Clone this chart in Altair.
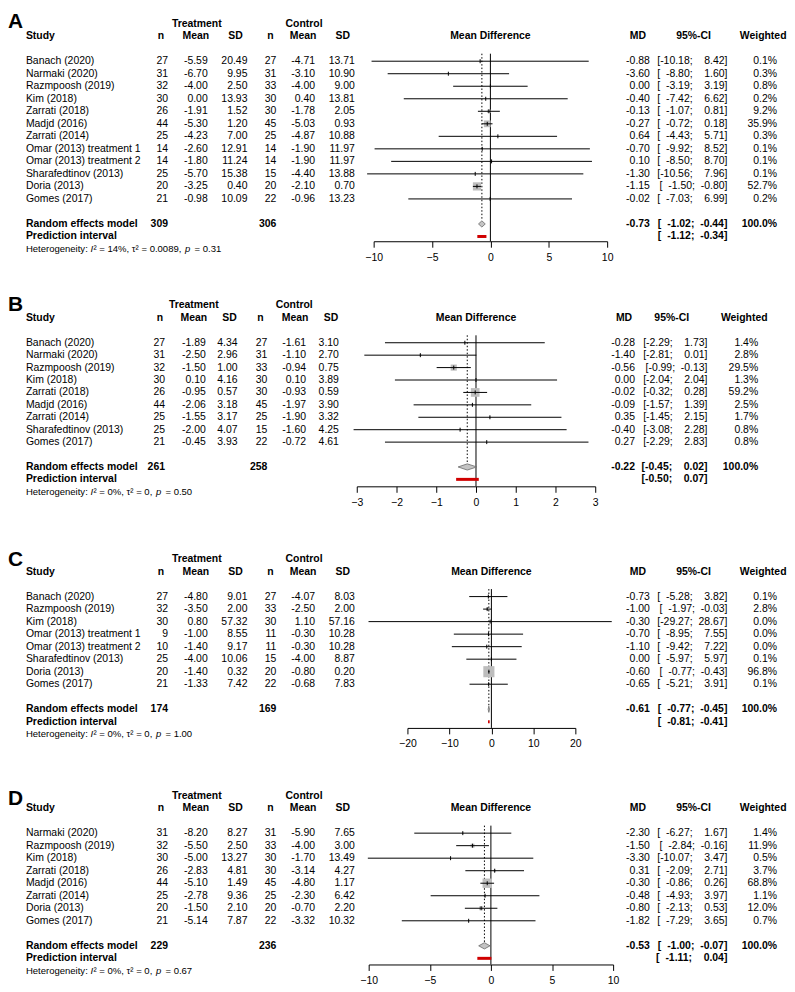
import altair as alt
import pandas as pd

FONT = "Liberation Sans"
FS = 10.5
HFS = 9.6

# ---------------- Panel A ----------------
A_study = ["Banach (2020)", "Narmaki (2020)", "Razmpoosh (2019)", "Kim (2018)", "Zarrati (2018)",
           "Madjd (2016)", "Zarrati (2014)", "Omar (2013) treatment 1", "Omar (2013) treatment 2",
           "Sharafedtinov (2013)", "Doria (2013)", "Gomes (2017)"]
A_tn = [27, 31, 32, 30, 26, 44, 25, 14, 14, 25, 20, 21]
A_tmean = [-5.59, -6.70, -4.00, 0.00, -1.91, -5.30, -4.23, -2.60, -1.80, -5.70, -3.25, -0.98]
A_tsd = [20.49, 9.95, 2.50, 13.93, 1.52, 1.20, 7.00, 12.91, 11.24, 15.38, 0.40, 10.09]
A_cn = [27, 31, 33, 30, 30, 45, 25, 14, 14, 15, 20, 22]
A_cmean = [-4.71, -3.10, -4.00, 0.40, -1.78, -5.03, -4.87, -1.90, -1.90, -4.40, -2.10, -0.96]
A_csd = [13.71, 10.90, 9.00, 13.81, 2.05, 0.93, 10.88, 11.97, 11.97, 13.88, 0.70, 13.23]
A_md = [-0.88, -3.60, 0.00, -0.40, -0.13, -0.27, 0.64, -0.70, 0.10, -1.30, -1.15, -0.02]
A_lo = [-10.18, -8.80, -3.19, -7.42, -1.07, -0.72, -4.43, -9.92, -8.50, -10.56, -1.50, -7.03]
A_hi = [8.42, 1.60, 3.19, 6.62, 0.81, 0.18, 5.71, 8.52, 8.70, 7.96, -0.80, 6.99]
A_w = [0.1, 0.3, 0.8, 0.2, 9.2, 35.9, 0.3, 0.1, 0.1, 0.1, 52.7, 0.2]
A_tot = [309, 306]
A_re = [-0.73, -1.02, -0.44]
A_pi = [-1.12, -0.34]
A_het = ["14%", "0.0089", "0.31"]
A_ticks = [-10, -5, 0, 5, 10]

# ---------------- Panel B ----------------
B_study = ["Banach (2020)", "Narmaki (2020)", "Razmpoosh (2019)", "Kim (2018)", "Zarrati (2018)",
           "Madjd (2016)", "Zarrati (2014)", "Sharafedtinov (2013)", "Gomes (2017)"]
B_tn = [27, 31, 32, 30, 26, 44, 25, 25, 21]
B_tmean = [-1.89, -2.50, -1.50, 0.10, -0.95, -2.06, -1.55, -2.00, -0.45]
B_tsd = [4.34, 2.96, 1.00, 4.16, 0.57, 3.18, 3.17, 4.07, 3.93]
B_cn = [27, 31, 33, 30, 30, 45, 25, 15, 22]
B_cmean = [-1.61, -1.10, -0.94, 0.10, -0.93, -1.97, -1.90, -1.60, -0.72]
B_csd = [3.10, 2.70, 0.75, 3.89, 0.59, 3.90, 3.32, 4.25, 4.61]
B_md = [-0.28, -1.40, -0.56, 0.00, -0.02, -0.09, 0.35, -0.40, 0.27]
B_lo = [-2.29, -2.81, -0.99, -2.04, -0.32, -1.57, -1.45, -3.08, -2.29]
B_hi = [1.73, 0.01, -0.13, 2.04, 0.28, 1.39, 2.15, 2.28, 2.83]
B_w = [1.4, 2.8, 29.5, 1.3, 59.2, 2.5, 1.7, 0.8, 0.8]
B_tot = [261, 258]
B_re = [-0.22, -0.45, 0.02]
B_pi = [-0.50, 0.07]
B_het = ["0%", "0", "0.50"]
B_ticks = [-3, -2, -1, 0, 1, 2, 3]

# ---------------- Panel C ----------------
C_study = ["Banach (2020)", "Razmpoosh (2019)", "Kim (2018)", "Omar (2013) treatment 1",
           "Omar (2013) treatment 2", "Sharafedtinov (2013)", "Doria (2013)", "Gomes (2017)"]
C_tn = [27, 32, 30, 9, 10, 25, 20, 21]
C_tmean = [-4.80, -3.50, 0.80, -1.00, -1.40, -4.00, -1.40, -1.33]
C_tsd = [9.01, 2.00, 57.32, 8.55, 9.17, 10.06, 0.32, 7.42]
C_cn = [27, 33, 30, 11, 11, 15, 20, 22]
C_cmean = [-4.07, -2.50, 1.10, -0.30, -0.30, -4.00, -0.80, -0.68]
C_csd = [8.03, 2.00, 57.16, 10.28, 10.28, 8.87, 0.20, 7.83]
C_md = [-0.73, -1.00, -0.30, -0.70, -1.10, 0.00, -0.60, -0.65]
C_lo = [-5.28, -1.97, -29.27, -8.95, -9.42, -5.97, -0.77, -5.21]
C_hi = [3.82, -0.03, 28.67, 7.55, 7.22, 5.97, -0.43, 3.91]
C_w = [0.1, 2.8, 0.0, 0.0, 0.0, 0.1, 96.8, 0.1]
C_tot = [174, 169]
C_re = [-0.61, -0.77, -0.45]
C_pi = [-0.81, -0.41]
C_het = ["0%", "0", "1.00"]
C_ticks = [-20, -10, 0, 10, 20]

# ---------------- Panel D ----------------
D_study = ["Narmaki (2020)", "Razmpoosh (2019)", "Kim (2018)", "Zarrati (2018)", "Madjd (2016)",
           "Zarrati (2014)", "Doria (2013)", "Gomes (2017)"]
D_tn = [31, 32, 30, 26, 44, 25, 20, 21]
D_tmean = [-8.20, -5.50, -5.00, -2.83, -5.10, -2.78, -1.50, -5.14]
D_tsd = [8.27, 2.50, 13.27, 4.81, 1.49, 9.36, 2.10, 7.87]
D_cn = [31, 33, 30, 30, 45, 25, 20, 22]
D_cmean = [-5.90, -4.00, -1.70, -3.14, -4.80, -2.30, -0.70, -3.32]
D_csd = [7.65, 3.00, 13.49, 4.27, 1.17, 6.42, 2.20, 10.32]
D_md = [-2.30, -1.50, -3.30, 0.31, -0.30, -0.48, -0.80, -1.82]
D_lo = [-6.27, -2.84, -10.07, -2.09, -0.86, -4.93, -2.13, -7.29]
D_hi = [1.67, -0.16, 3.47, 2.71, 0.26, 3.97, 0.53, 3.65]
D_w = [1.4, 11.9, 0.5, 3.7, 68.8, 1.1, 12.0, 0.7]
D_tot = [229, 236]
D_re = [-0.53, -1.00, -0.07]
D_pi = [-1.11, 0.04]
D_het = ["0%", "0", "0.67"]
D_ticks = [-10, -5, 0, 5, 10]

# ---------------- layout (pixel positions of table columns, not data) ----------------
LAY_STD = dict(study=18, tn=161, tmean=201, tsd=241, cn=270, cmean=309, csd=349,
               h_tn=154, h_tmean=189, h_tsd=229, h_cn=264, h_cmean=297, h_csd=337,
               h_treat=190, h_ctrl=298, md=646, h_md=634, ci=724, h_ci=690, w=774, h_w=760)
LAY_B = dict(study=18, tn=158, tmean=199, tsd=231, cn=261, cmean=300, csd=333,
             h_tn=153, h_tmean=187, h_tsd=223, h_cn=254, h_cmean=289, h_csd=325,
             h_treat=187, h_ctrl=288, md=631, h_md=620, ci=704, h_ci=668, w=755, h_w=741)

PANELS = [
    dict(letter="A", study=A_study, tn=A_tn, tmean=A_tmean, tsd=A_tsd, cn=A_cn, cmean=A_cmean,
         csd=A_csd, md=A_md, lo=A_lo, hi=A_hi, w=A_w, tot=A_tot, re=A_re, pi=A_pi, het=A_het,
         ticks=A_ticks, lay=LAY_STD, xrange=[368, 603], step=12.6, ytop=-1.0, ybot=17.38,
         lline=-0.98),
    dict(letter="B", study=B_study, tn=B_tn, tmean=B_tmean, tsd=B_tsd, cn=B_cn, cmean=B_cmean,
         csd=B_csd, md=B_md, lo=B_lo, hi=B_hi, w=B_w, tot=B_tot, re=B_re, pi=B_pi, het=B_het,
         ticks=B_ticks, lay=LAY_B, xrange=[351, 591], step=12.5, ytop=-3.38, ybot=14.56,
         lline=-0.92),
    dict(letter="C", study=C_study, tn=C_tn, tmean=C_tmean, tsd=C_tsd, cn=C_cn, cmean=C_cmean,
         csd=C_csd, md=C_md, lo=C_lo, hi=C_hi, w=C_w, tot=C_tot, re=C_re, pi=C_pi, het=C_het,
         ticks=C_ticks, lay=LAY_STD, xrange=[402, 571], step=12.6, ytop=-4.08, ybot=13.49,
         lline=-0.83),
    dict(letter="D", study=D_study, tn=D_tn, tmean=D_tmean, tsd=D_tsd, cn=D_cn, cmean=D_cmean,
         csd=D_csd, md=D_md, lo=D_lo, hi=D_hi, w=D_w, tot=D_tot, re=D_re, pi=D_pi, het=D_het,
         ticks=D_ticks, lay=LAY_STD, xrange=[363, 609], step=12.6, ytop=-3.69, ybot=13.49,
         lline=-0.6),
]

NB = "\u2007"
SP = "\u00a0"

# advance widths of Liberation Sans (per 1000 em), used to place the italic symbols
CW = {" ": 278, SP: 278, "H": 722, "e": 556, "t": 278, "r": 333, "o": 556, "g": 556,
      "n": 556, "i": 222, "y": 500, ":": 278, "I": 278, "\u00b2": 333, "=": 584, "%": 889,
      ",": 278, "\u03c4": 480, ".": 278, "p": 556}


def tw(s, size):
    return sum(CW.get(c, 556) for c in s) / 1000.0 * size


def f2(v):
    s = f"{v:.2f}"
    return "0.00" if s == "-0.00" else s


def ci_strings(los, his):
    ls = [f2(v) for v in los]
    hs = [f2(v) for v in his]
    wl = max(len(s) for s in ls)
    wh = max(len(s) for s in hs)
    return [f"[{NB * (wl - len(a))}{a};{NB}{NB * (wh - len(b))}{b}]" for a, b in zip(ls, hs)]


def make_panel(P):
    L = P["lay"]
    n = len(P["study"])
    lines = [3 + i for i in range(n)]
    re_line = n + 4
    pi_line = n + 5
    het_line = n + 6
    cis = ci_strings(P["lo"] + [P["re"][1], P["pi"][0]], P["hi"] + [P["re"][2], P["pi"][1]])
    df = pd.DataFrame({
        "line": lines,
        "study": P["study"],
        "tn": [str(v) for v in P["tn"]],
        "tmean": [f2(v) for v in P["tmean"]],
        "tsd": [f2(v) for v in P["tsd"]],
        "cn": [str(v) for v in P["cn"]],
        "cmean": [f2(v) for v in P["cmean"]],
        "csd": [f2(v) for v in P["csd"]],
        "mds": [f2(v) for v in P["md"]],
        "cis": cis[:n],
        "ws": [f"{v:.1f}%" for v in P["w"]],
        "md": P["md"], "lo": P["lo"], "hi": P["hi"], "w": P["w"],
    })
    H = (P["ybot"] - P["ytop"]) * P["step"]
    ys = alt.Scale(domain=[P["ytop"], P["ybot"]], reverse=True, nice=False, zero=False)
    xs = alt.Scale(domain=[P["ticks"][0], P["ticks"][-1]], range=P["xrange"], nice=False,
                   zero=False, clamp=False)
    AX = alt.Axis(values=P["ticks"], title=None, grid=False, tickSize=6, labelPadding=5,
                  domainColor="black", tickColor="black", labelColor="black",
                  labelFontSize=FS, labelFont=FONT, labelFlush=False, format="d",
                  domainWidth=1, tickWidth=1)

    def Y(f):
        return alt.Y(f, type="quantitative", scale=ys, axis=None)

    def X(f):
        return alt.X(f, type="quantitative", scale=xs, axis=AX)

    base = alt.Chart(df)
    layers = []

    def col(field, x, align="right"):
        return base.mark_text(align=align, baseline="middle", font=FONT, fontSize=FS,
                              color="black").encode(x=alt.value(x), y=Y("line"),
                                                    text=alt.Text(f"{field}:N"))

    def lab(text, x, line, align="center", bold=True, size=FS, baseline="middle",
            italic=False):
        d = pd.DataFrame({"t": [text], "line": [line]})
        return alt.Chart(d).mark_text(align=align, baseline=baseline, font=FONT, fontSize=size,
                                      fontWeight="bold" if bold else "normal",
                                      fontStyle="italic" if italic else "normal",
                                      color="black").encode(
            x=alt.value(x), y=Y("line"), text="t:N")

    # forest: reference lines
    zero_df = pd.DataFrame({"x": [0], "y1": [2.4], "y2": [P["ybot"]]})
    layers.append(alt.Chart(zero_df).mark_rule(color="black", strokeWidth=1).encode(
        x=X("x"), y=Y("y1"), y2="y2"))
    re_df = pd.DataFrame({"x": [P["re"][0]], "y1": [2.4], "y2": [re_line - 0.3]})
    layers.append(alt.Chart(re_df).mark_rule(color="black", strokeWidth=1,
                                             strokeDash=[1.5, 2]).encode(
        x=X("x"), y=Y("y1"), y2="y2"))
    # squares
    maxw = max(P["w"])
    layers.append(base.mark_square(color="#bdbdbd", opacity=1).encode(
        x=X("md"), y=Y("line"),
        size=alt.Size("w:Q", scale=alt.Scale(domain=[0, maxw], range=[0, 125]), legend=None)))
    # CI lines
    layers.append(base.mark_rule(color="black", strokeWidth=1).encode(
        x=X("lo"), x2="hi", y=Y("line")))
    # estimate ticks
    layers.append(base.mark_point(shape="M0,-1L0,1", size=16, color="black", filled=False,
                                  strokeWidth=1, opacity=1).encode(x=X("md"), y=Y("line")))
    # diamond
    h = 0.25
    dia = pd.DataFrame({"x": [P["re"][1], P["re"][0], P["re"][2]],
                        "y": [re_line, re_line - h, re_line],
                        "y2": [re_line, re_line + h, re_line]})
    layers.append(alt.Chart(dia).mark_area(fill="#c4c4c4", stroke="#6a6a6a", strokeWidth=0.8,
                                           opacity=1, fillOpacity=1).encode(
        x=X("x"), y=Y("y"), y2="y2"))
    # prediction interval
    pi_df = pd.DataFrame({"lo": [P["pi"][0]], "hi": [P["pi"][1]], "line": [pi_line]})
    layers.append(alt.Chart(pi_df).mark_rule(color="#d00000", strokeWidth=3).encode(
        x=X("lo"), x2="hi", y=Y("line")))

    # table columns
    layers.append(col("study", L["study"], align="left"))
    for f in ["tn", "tmean", "tsd", "cn", "cmean", "csd"]:
        layers.append(col(f, L[f]))
    layers.append(col("mds", L["md"]))
    layers.append(col("cis", L["ci"]))
    layers.append(col("ws", L["w"]))

    # headers
    mid = (P["xrange"][0] + P["xrange"][1]) / 2
    layers += [
        lab(P["letter"], 0, P["lline"], align="left", size=21, baseline="top"),
        lab("Treatment", L["h_treat"], 0),
        lab("Control", L["h_ctrl"], 0),
        lab("Study", L["study"], 1, align="left"),
        lab("n", L["h_tn"], 1), lab("Mean", L["h_tmean"], 1), lab("SD", L["h_tsd"], 1),
        lab("n", L["h_cn"], 1), lab("Mean", L["h_cmean"], 1), lab("SD", L["h_csd"], 1),
        lab("Mean Difference", mid, 1),
        lab("MD", L["h_md"], 1), lab("95%-CI", L["h_ci"], 1), lab("Weighted", L["h_w"], 1),
        # summary rows
        lab("Random effects model", L["study"], re_line, align="left"),
        lab(str(P["tot"][0]), L["tn"], re_line, align="right"),
        lab(str(P["tot"][1]), L["cn"], re_line, align="right"),
        lab(f2(P["re"][0]), L["md"], re_line, align="right"),
        lab(cis[n], L["ci"], re_line, align="right"),
        lab("100.0%", L["w"], re_line, align="right"),
        lab("Prediction interval", L["study"], pi_line, align="left"),
        lab(cis[n + 1], L["ci"], pi_line, align="right"),
    ]
    # heterogeneity line with italic I and p
    i2, t2, pv = P["het"]
    parts = [(f"Heterogeneity:{SP}", False, 0.0), ("I", True, 0.3),
             (f"\u00b2{SP}={SP}{i2},{SP}\u03c4\u00b2{SP}={SP}{t2},{SP}", False, 0.0),
             ("p", True, 1.6), (f"={SP}{pv}", False, 0.0)]
    xpos = L["study"]
    for txt, it, extra in parts:
        layers.append(lab(txt, xpos, het_line, align="left", bold=False, size=HFS, italic=it))
        xpos += tw(txt, HFS) + extra
        if txt == "p":
            xpos += tw(SP, HFS)
    return alt.layer(*layers).properties(width=778, height=H)


chart = alt.vconcat(*[make_panel(P) for P in PANELS], spacing=0, padding=0).configure(
    font=FONT).configure_view(stroke=None, strokeWidth=0)

chart.save("out.html", embed_options={"renderer": "svg", "actions": False})
